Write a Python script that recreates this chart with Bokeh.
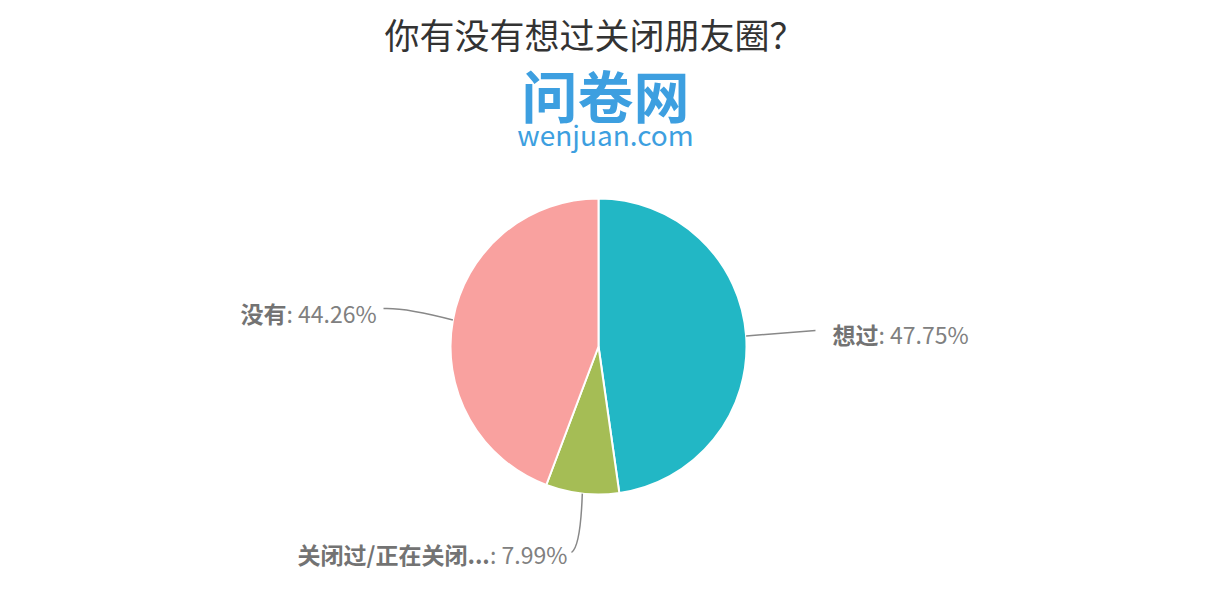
import math
from bokeh.plotting import figure
from bokeh.core.properties import value
from bokeh.embed import file_html
from bokeh.resources import INLINE

# ---- data ----
title_text = "你有没有想过关闭朋友圈？"
categories = ["想过", "关闭过/正在关闭...", "没有"]
percents = [47.75, 7.99, 44.26]
colors = ["#22b7c5", "#a5bd55", "#f9a19f"]
logo_cn = "问卷网"
logo_en = "wenjuan.com"

# ---- layout ----
W, H = 1212, 584
def px(X):
    return X
def py(Y):
    return H - Y

CX, CY, R = px(598), py(346), 148
FONT = "Noto Sans CJK SC"
FS = 23

p = figure(width=W, height=H, x_range=(0, W), y_range=(0, H),
           output_backend="svg", toolbar_location=None, min_border=0)
p.axis.visible = False
p.grid.visible = False
p.outline_line_color = None
p.background_fill_color = "white"
p.border_fill_color = "white"

# wedges
starts, ends, mids = [], [], []
cum = 0.0
total = sum(percents)
for v in percents:
    a0 = math.pi / 2 - 2 * math.pi * cum / total
    cum += v
    a1 = math.pi / 2 - 2 * math.pi * cum / total
    starts.append(a0)
    ends.append(a1)
    mids.append((a0 + a1) / 2)

p.wedge(x=[CX] * 3, y=[CY] * 3, radius=R, start_angle=starts, end_angle=ends,
        direction="clock", fill_color=colors, line_color="white", line_width=2)

# leader lines: start on slice edge at mid angle, end near label
edge = [(CX + R * math.cos(a), CY + R * math.sin(a)) for a in mids]
line_ends = [(px(815), py(330)), (px(571), py(552)), (px(383), py(308))]
ctrl = [None, (px(580), py(546)), (px(405), py(307))]
for (sx, sy), (ex, ey), c in zip(edge, line_ends, ctrl):
    if c is None:
        p.line([sx, ex], [sy, ey], line_color="#888888", line_width=1.5)
    else:
        p.quadratic(x0=[sx], y0=[sy], x1=[ex], y1=[ey], cx=[c[0]], cy=[c[1]],
                    line_color="#888888", line_width=1.5)

# labels
def est_width(s, fs):
    w = 0.0
    for ch in s:
        if ord(ch) > 0x2E80:
            w += fs
        elif ch == "/":
            w += 0.38 * fs
        elif ch == ".":
            w += 0.33 * fs
        else:
            w += 0.55 * fs
    return w

label_pos = [(832, 333), (297, 553), (240, 312)]
for name, v, (lx, ly) in zip(categories, percents, label_pos):
    p.text(x=[px(lx)], y=[py(ly)], text=[name], text_font=value(FONT),
           text_font_size=f"{FS}px", text_font_style="bold", text_color="#737373",
           text_align="left", text_baseline="middle")
    p.text(x=[px(lx) + est_width(name, FS)], y=[py(ly)], text=[f": {v:.2f}%"],
           text_font=value(FONT), text_font_size=f"{FS}px", text_color="#808080",
           text_align="left", text_baseline="middle")

# title
p.text(x=[px(594)], y=[py(33)], text=[title_text], text_font=value(FONT),
       text_font_size="35px", text_color="#333333", text_align="center",
       text_baseline="middle")

# logo
p.text(x=[px(605)], y=[py(93)], text=[logo_cn], text_font=value(FONT),
       text_font_size="56px", text_font_style="bold", text_color="#3d9fe0",
       text_align="center", text_baseline="middle")
p.text(x=[px(605)], y=[py(133)], text=[logo_en], text_font=value(FONT),
       text_font_size="28px", text_color="#3d9fe0", text_align="center",
       text_baseline="middle")

open("out.html", "w").write(file_html(p, INLINE))
